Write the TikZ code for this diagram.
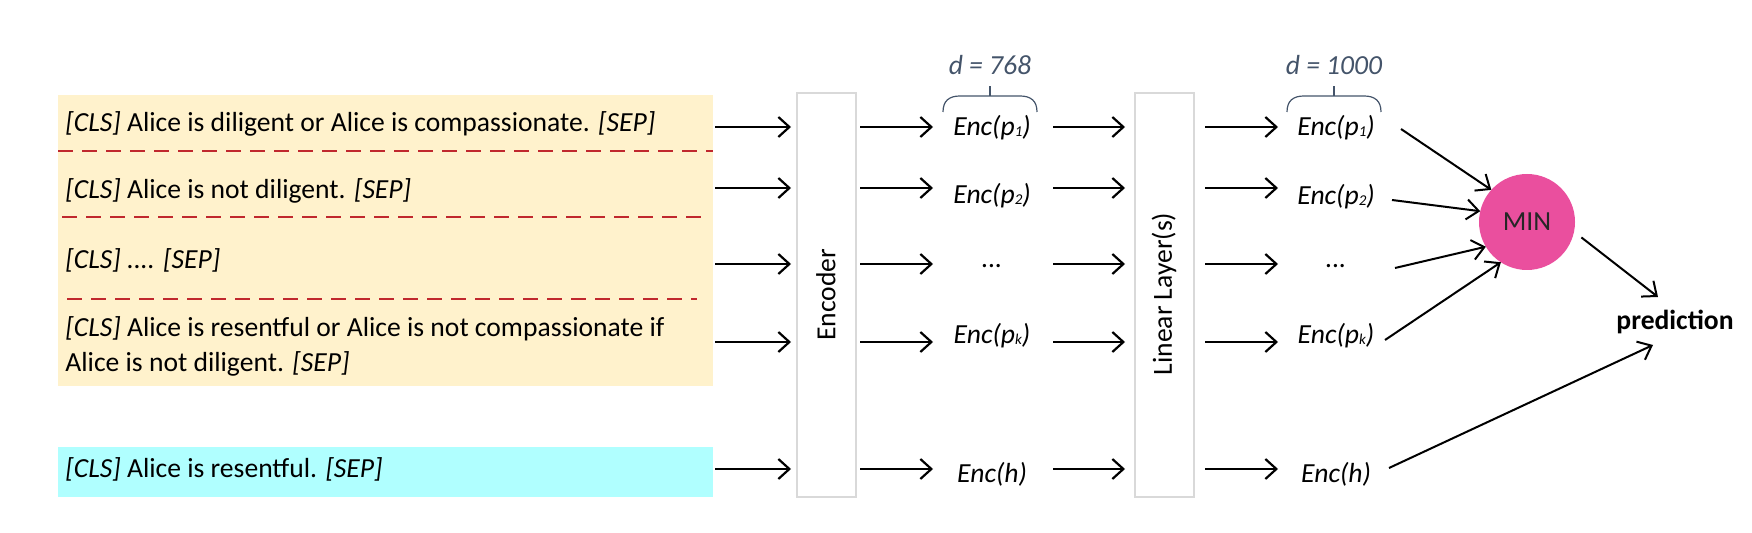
\documentclass[tikz,border=0pt]{standalone}
\usepackage{fontspec}
\setmainfont{Carlito}
\usetikzlibrary{arrows.meta,calc,fit}
\definecolor{yel}{HTML}{FFF2CC}
\definecolor{cya}{HTML}{B0FFFF}
\definecolor{dred}{HTML}{C0282D}
\definecolor{bgray}{HTML}{44546A}
\definecolor{pinkmin}{HTML}{EA4F9E}
\definecolor{boxgray}{HTML}{D9D9D9}
\newcommand{\smallsub}[1]{\raisebox{-0.4pt}{\fontsize{7.5}{8}\selectfont #1}}
\begin{document}
\begin{tikzpicture}[x=0.5pt,y=-0.5pt,
  font=\fontsize{13.8}{16.5}\selectfont,
  arr/.style={line width=1.1pt,-{Straight Barb[length=5.5pt,width=10pt,line width=1.1pt]}},
  darr/.style={line width=1pt,-{Straight Barb[length=6pt,width=10pt,line width=1pt]}},
  sepline/.style={draw=dred,line width=1pt,dash pattern=on 7.5pt off 4.5pt},
  fillbox/.style={inner sep=0pt,outer sep=0pt},
  layerbox/.style={inner sep=0pt,outer sep=0pt,draw=boxgray,line width=0.6pt,fill=white},
  txt/.style={anchor=base west,inner sep=0pt},
  lbl/.style={inner sep=2pt},
  brc/.style={draw=bgray,line width=0.6pt},
  dlbl/.style={text=bgray,font=\fontsize{13.8}{16.5}\selectfont\itshape}]
\useasboundingbox (0,0) rectangle (1752,533);

% input boxes
\node[fillbox,fill=yel,fit={(58,95) (713,386)}] (inbox) {};
\node[fillbox,fill=cya,fit={(58,447) (713,497)}] (cbox) {};
\draw[sepline] (58,151) -- (713,151);
\draw[sepline] (62,217) -- (705,217);
\draw[sepline] (67,299) -- (697,299);

\node[txt] (t1) at (65,132) {\textit{[CLS]} Alice is diligent or Alice is compassionate. \textit{[SEP]}};
\node[txt] (t2) at (65,199) {\textit{[CLS]} Alice is not diligent. \textit{[SEP]}};
\node[txt] (t3) at (65,269) {\textit{[CLS] .... [SEP]}};
\node[txt] (t4) at (65,337) {\textit{[CLS]} Alice is resentful or Alice is not compassionate if};
\node[txt] (t4b) at (65,372) {Alice is not diligent. \textit{[SEP]}};
\node[txt] (t5) at (65,478) {\textit{[CLS]} Alice is resentful. \textit{[SEP]}};

% layers
\node[layerbox,fit={(797,93) (856,497)}] (enc) {};
\node[rotate=90] (enctxt) at (826,295) {Encoder};
\node[layerbox,fit={(1135,93) (1194,497)}] (lin) {};
\node[rotate=90] (lintxt) at (1164,294) {Linear Layer(s)};

% row coordinates
\coordinate (r1) at (0,127);
\coordinate (r2) at (0,188);
\coordinate (r3) at (0,264);
\coordinate (r4) at (0,342);
\coordinate (r5) at (0,469);

% encoded labels
\node[lbl] (e1) at (992,128) {\textit{Enc(p\smallsub{1})}};
\node[lbl] (e2) at (992,196) {\textit{Enc(p\smallsub{2})}};
\node[lbl] (e3) at (992,266) {\textit{...}};
\node[lbl] (e4) at (992,336) {\textit{Enc(p\smallsub{k})}};
\node[lbl] (e5) at (992,474) {\textit{Enc(h)}};
\node[lbl] (f1) at (1336,128) {\textit{Enc(p\smallsub{1})}};
\node[lbl] (f2) at (1336,197) {\textit{Enc(p\smallsub{2})}};
\node[lbl] (f3) at (1336,266) {\textit{...}};
\node[lbl] (f4) at (1336,336) {\textit{Enc(p\smallsub{k})}};
\node[lbl] (f5) at (1336,474) {\textit{Enc(h)}};

% dimension labels and braces
\node[dlbl] (d1) at (990,65) {d = 768};
\node[dlbl] (d2) at (1334,65) {d = 1000};
\draw[brc] (943,112) .. controls (943,101) and (949,96) .. (960,96) -- (1020,96) .. controls (1031,96) and (1037,101) .. (1037,112);
\draw[brc] (990,96) -- (990,86);
\draw[brc] (1287,112) .. controls (1287,101) and (1293,96) .. (1304,96) -- (1364,96) .. controls (1375,96) and (1381,101) .. (1381,112);
\draw[brc] (1334,96) -- (1334,86);

% MIN and prediction
\node[circle,fill=pinkmin,minimum size=48pt,inner sep=0pt,outer sep=0pt,text=black!85] (min) at (1527,222) {MIN};
\node[font=\fontsize{13.8}{16.5}\selectfont\bfseries] (pred) at (1675,322) {prediction};

% horizontal arrows
\foreach \i in {1,2,3,4} {
  \draw[arr] ($(inbox.east|-r\i)+(2,0)$) -- ($(enc.west|-r\i)+(-6,0)$);
}
\draw[arr] ($(cbox.east|-r5)+(2,0)$) -- ($(enc.west|-r5)+(-6,0)$);
\foreach \i in {1,...,5} {
  \draw[arr] ($(enc.east|-r\i)+(4,0)$) -- ($(e\i.center|-r\i)+(-59,0)$);
  \draw[arr] ($(e\i.center|-r\i)+(61,0)$) -- ($(lin.west|-r\i)+(-10,0)$);
  \draw[arr] ($(lin.east|-r\i)+(11,0)$) -- ($(f\i.center|-r\i)+(-58,0)$);
}

% to MIN
\draw[darr] ($(f1.center)+(65,1)$) -- (min.138);
\draw[darr] ($(f2.center)+(56,3)$) -- (min.167);
\draw[darr] ($(f3.center)+(59,2)$) -- (min.211);
\draw[darr] ($(f4.center)+(49,4)$) -- (min.237);

% to prediction
\draw[darr] ($(min.345)+(8,3)$) -- ($(pred.center)+(-17,-25)$);
\draw[darr] ($(f5.center)+(53,-6)$) -- ($(pred.center)+(-22,23)$);
\end{tikzpicture}
\end{document}
